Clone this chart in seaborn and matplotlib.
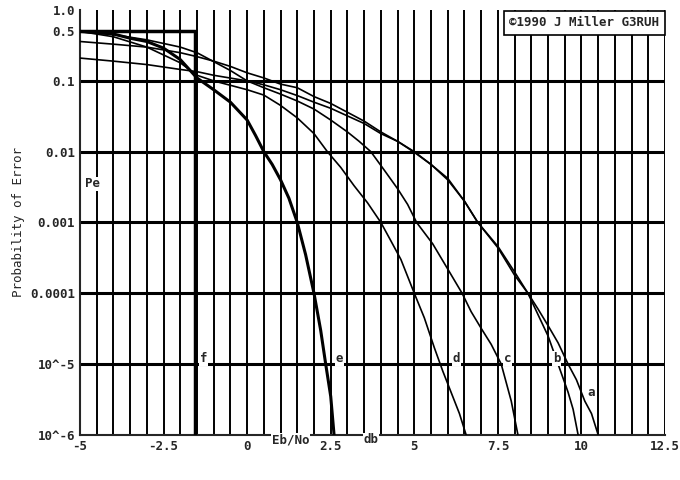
import matplotlib
matplotlib.use("Agg")
import matplotlib.pyplot as plt
import numpy as np
import pandas as pd
import seaborn as sns

# --- values (Eb/No in dB, Pe)
a_db = [-5, -4, -3, -2, -1.5, -1, 0, 0.5, 1, 1.5, 2, 2.5, 3, 3.5, 4, 4.5, 5, 5.5, 6, 6.5, 6.9,
        7.5, 8, 8.4, 8.7, 9, 9.3, 9.6, 9.85, 10.1, 10.3, 10.5]
a_pe = [.21, .19, .17, .145, .135, .12, .1, .088, .075, .062, .05, .041, .032, .025, .018, .014,
        .01, .0066, .004, .002, .001, 4.6e-4, 2e-4, 1e-4, 6e-5, 3.5e-5, 2e-5, 1e-5, 6e-6, 3e-6,
        2e-6, 1e-6]
b_db = [-5, -4, -3, -2, -1.5, -1, -0.5, 0, 0.5, 1, 1.5, 2, 2.5, 3, 3.5, 4, 4.5, 5, 5.5, 6, 6.5,
        6.9, 7.5, 8, 8.4, 8.7, 9, 9.3, 9.6, 9.75, 9.9]
b_pe = [.36, .33, .3, .25, .22, .19, .16, .13, .11, .09, .08, .06, .048, .036, .027, .019, .014,
        .0098, .0066, .0042, .002, .001, 4.4e-4, 1.8e-4, 1e-4, 5e-5, 2.5e-5, 1e-5, 4e-6, 2.3e-6,
        1e-6]
c_db = [-5, -4, -3, -2, -1.5, -0.5, 0, 0.5, 1, 1.5, 2, 2.5, 3, 3.35, 3.7, 4.1, 4.5, 4.8, 5.07,
        5.55, 6, 6.43, 6.7, 7, 7.3, 7.6, 7.9, 8.1]
c_pe = [.5, .45, .38, .3, .25, .14, .1, .08, .065, .052, .04, .028, .019, .014, .01, 5.5e-3,
        3e-3, 1.8e-3, 1e-3, 5e-4, 2.2e-4, 1e-4, 5.5e-5, 3.2e-5, 1.9e-5, 1e-5, 3e-6, 1e-6]
d_db = [-5, -4, -3, -2, -1.5, -1, 0, 0.5, 1, 1.5, 2, 2.4, 2.8, 3.2, 3.6, 4.0, 4.3, 4.6, 5.0,
        5.3, 5.6, 5.85, 6.1, 6.35, 6.55]
d_pe = [.5, .42, .3, .18, .12, .1, .075, .063, .045, .03, .018, .01, 6e-3, 3.3e-3, 1.9e-3,
        1e-3, 5.5e-4, 3e-4, 1e-4, 4.5e-5, 1.7e-5, 8e-6, 4e-6, 2e-6, 1e-6]
e_db = [-5, -4, -3.5, -3, -2.5, -2, -1.5, -1, -0.5, 0, 0.25, 0.5, 0.75, 1, 1.25, 1.5, 1.75,
        2.0, 2.2, 2.35, 2.5, 2.6]
e_pe = [.5, .46, .4, .36, .29, .2, .11, .075, .05, .028, .017, .01, .0066, 4e-3, 2.2e-3, 1e-3,
        3.5e-4, 1e-4, 3e-5, 1e-5, 3.5e-6, 1e-6]
f_db = [-5, -1.55, -1.55]
f_pe = [.5, .5, 1e-6]

curves = {"a": (a_db, a_pe), "b": (b_db, b_pe), "c": (c_db, c_pe),
          "d": (d_db, d_pe), "e": (e_db, e_pe)}
label_pos = {"a": (10.3, 4e-6), "b": (9.25, 1.2e-5), "c": (7.8, 1.2e-5),
             "d": (6.25, 1.2e-5), "e": (2.75, 1.2e-5), "f": (-1.3, 1.2e-5)}

yticks = [1e-6, 1e-5, 1e-4, 1e-3, 1e-2, 0.1, 0.5, 1.0]
ylabels = ["10^-6", "10^-5", "0.0001", "0.001", "0.01", "0.1", "0.5", "1.0"]
xticks = [-5, -2.5, 0, 2.5, 5, 7.5, 10, 12.5]

sns.set_style("white")
plt.rcParams["font.family"] = ["DejaVu Sans Mono"]
plt.rcParams["font.weight"] = "bold"

fig = plt.figure(figsize=(6.8, 4.8), dpi=100)
ax = fig.add_axes([0.1176, 0.094, 0.8604, 0.885])

# grid
for xv in np.arange(-5, 12.51, 0.5):
    ax.axvline(xv, color="black", lw=1.4, zorder=1)
for yv in [1e-5, 1e-4, 1e-3, 1e-2, 0.1]:
    ax.axhline(yv, color="black", lw=2.2, zorder=1)

for name, (x, y) in curves.items():
    sns.lineplot(x=x, y=y, ax=ax, color="black", lw=2.2 if name == "e" else 1.2,
                 estimator=None, sort=False, zorder=3)
ax.plot(f_db, f_pe, color="black", lw=2.5, zorder=3)

for name, (lx, ly) in label_pos.items():
    ax.text(lx, ly, name, fontsize=9, ha="center", va="center",
            bbox=dict(fc="white", ec="none", pad=0.5), zorder=4)

ax.set_yscale("log")
ax.set_xlim(-5, 12.5)
ax.set_ylim(1e-6, 1.0)
ax.set_yticks(yticks)
ax.set_yticklabels(ylabels)
ax.minorticks_off()
ax.set_xticks(xticks)
ax.set_xticklabels([str(v) for v in xticks])
ax.tick_params(length=0, labelsize=9)
ax.set_ylabel("Probability of Error", fontsize=9)
for s in ["top", "right"]:
    ax.spines[s].set_visible(False)
for s in ["left", "bottom"]:
    ax.spines[s].set_linewidth(1.5)

ax.text(-4.85, 0.0035, "Pe", fontsize=9, ha="left", va="center",
        bbox=dict(fc="white", ec="none", pad=0.5), zorder=4)
ax.text(1.3, 1.05e-6, "Eb/No", fontsize=9, ha="center", va="top", zorder=4,
        bbox=dict(fc="white", ec="none", pad=0.5), clip_on=False)
ax.text(3.7, 1.05e-6, "db", fontsize=9, ha="center", va="top", zorder=4,
        bbox=dict(fc="white", ec="none", pad=0.5), clip_on=False)
ax.text(0.99, 0.985, "\u00a91990 J Miller G3RUH", transform=ax.transAxes,
        fontsize=9, ha="right", va="top", zorder=5,
        bbox=dict(fc="white", ec="black", lw=1.2, pad=4))

fig.savefig("out.png", dpi=100)
